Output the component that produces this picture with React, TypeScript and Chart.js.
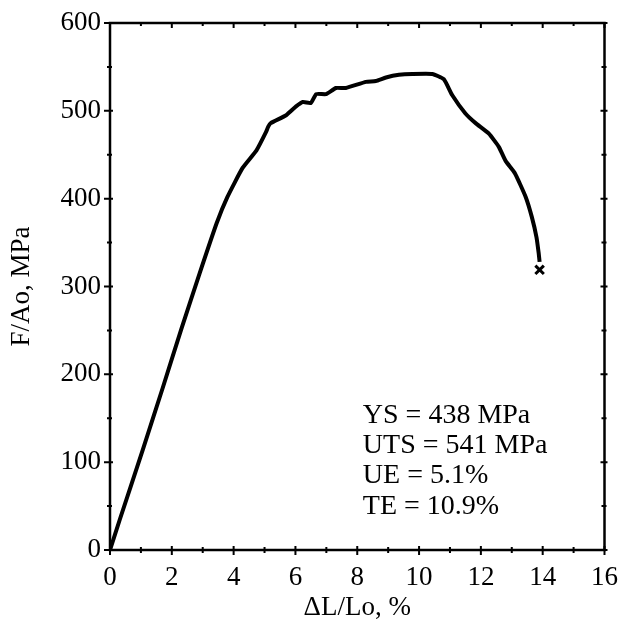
import React, { useEffect, useRef } from "react";
import { Chart, registerables } from "chart.js";

Chart.register(...registerables);

const strain = [0, 0.32, 1.06, 1.71, 2.32, 2.9, 3.45, 3.8, 4.29, 4.74, 5.05, 5.12, 5.2, 5.7, 6.02, 6.24, 6.5, 6.67, 6.99, 7.31, 7.63, 8.28, 8.6, 8.93, 9.35, 9.78, 10.43, 10.8, 11.07, 11.5, 11.83, 12.26, 12.58, 12.8, 13.1, 13.45, 13.65, 13.8, 13.87, 13.9];
const stress = [0, 35, 114, 185, 253, 315, 372, 402, 435, 455, 476, 482, 486, 495, 505, 510, 509, 519, 519, 526, 526, 533, 534, 538, 541, 542, 542, 536, 518, 497, 486, 474, 459, 443, 429, 402, 379, 356, 338, 328];
const fracture = [{ x: 13.9, y: 319 }];
const xTicks = [0, 2, 4, 6, 8, 10, 12, 14, 16];
const yTicks = [0, 100, 200, 300, 400, 500, 600];
const annotationLines = ["YS = 438 MPa", "UTS = 541 MPa", "UE = 5.1%", "TE = 10.9%"];

const FONT = "'Liberation Serif', 'DejaVu Serif', serif";

const framePlugin = {
  id: "frame",
  afterDraw(chart: any) {
    const { ctx, chartArea: a, scales } = chart;
    const xs = scales.x;
    const ys = scales.y;
    ctx.save();
    ctx.strokeStyle = "#000";
    ctx.lineWidth = 2.5;
    ctx.strokeRect(a.left, a.top, a.right - a.left, a.bottom - a.top);
    ctx.lineWidth = 2;
    ctx.beginPath();
    for (let v = 0; v <= 16; v += 1) {
      const px = xs.getPixelForValue(v);
      const major = v % 2 === 0;
      ctx.moveTo(px, a.bottom - (major ? 4 : 3));
      ctx.lineTo(px, a.bottom + (major ? 5 : 3));
      ctx.moveTo(px, a.top);
      ctx.lineTo(px, a.top + (major ? 5 : 3));
    }
    for (let v = 0; v <= 600; v += 50) {
      const py = ys.getPixelForValue(v);
      const major = v % 100 === 0;
      ctx.moveTo(a.left - (major ? 6 : 3), py);
      ctx.lineTo(a.left + (major ? 3 : 2), py);
      ctx.moveTo(a.right - (major ? 4 : 3), py);
      ctx.lineTo(a.right + (major ? 3 : 2), py);
    }
    ctx.stroke();

    ctx.fillStyle = "#000";
    ctx.font = `28px ${FONT}`;
    ctx.textAlign = "left";
    ctx.textBaseline = "alphabetic";
    const tx = xs.getPixelForValue(8.18);
    const ty = ys.getPixelForValue(145);
    annotationLines.forEach((t, i) => {
      ctx.fillText(t, tx, ty + i * 30.3);
    });
    ctx.restore();
  },
};

export default function App() {
  const ref = useRef<HTMLCanvasElement | null>(null);
  useEffect(() => {
    document.body.style.margin = "0";
    const canvas = ref.current!;
    const chart = new Chart(canvas, {
      type: "line",
      data: {
        datasets: [
          {
            data: strain.map((x, i) => ({ x, y: stress[i] })),
            borderColor: "#000",
            borderWidth: 4,
            pointRadius: 0,
            tension: 0.15,
            fill: false,
          },
          {
            data: fracture,
            showLine: false,
            pointStyle: "crossRot",
            pointRadius: 6,
            borderColor: "#000",
            borderWidth: 3,
          },
        ],
      },
      options: {
        responsive: false,
        animation: false,
        layout: { padding: { top: 23, right: 16, left: 0, bottom: 0 } },
        plugins: { legend: { display: false }, tooltip: { enabled: false } },
        scales: {
          x: {
            type: "linear",
            min: 0,
            max: 16,
            afterBuildTicks: (s: any) => {
              s.ticks = xTicks.map((v) => ({ value: v }));
            },
            afterFit: (s: any) => {
              s.height = 81;
            },
            grid: { display: false },
            border: { display: false },
            ticks: { color: "#000", font: { family: FONT, size: 27 }, padding: 4, maxRotation: 0 },
            title: {
              display: true,
              text: "ΔL/Lo, %",
              color: "#000",
              font: { family: FONT, size: 27 },
              padding: { top: 0, bottom: 7 },
            },
          },
          y: {
            type: "linear",
            min: 0,
            max: 600,
            afterBuildTicks: (s: any) => {
              s.ticks = yTicks.map((v) => ({ value: v }));
            },
            afterFit: (s: any) => {
              s.width = 110;
            },
            grid: { display: false },
            border: { display: false },
            ticks: { color: "#000", font: { family: FONT, size: 27 }, padding: 1 },
            title: {
              display: true,
              text: "F/Ao, MPa",
              color: "#000",
              font: { family: FONT, size: 27 },
              padding: { top: 6, bottom: 0 },
            },
          },
        },
      },
      plugins: [framePlugin],
    });
    return () => chart.destroy();
  }, []);
  return (
    <div style={{ width: 622, height: 631, background: "#fff" }}>
      <canvas ref={ref} width={622} height={631} style={{ width: 622, height: 631, display: "block" }} />
    </div>
  );
}
